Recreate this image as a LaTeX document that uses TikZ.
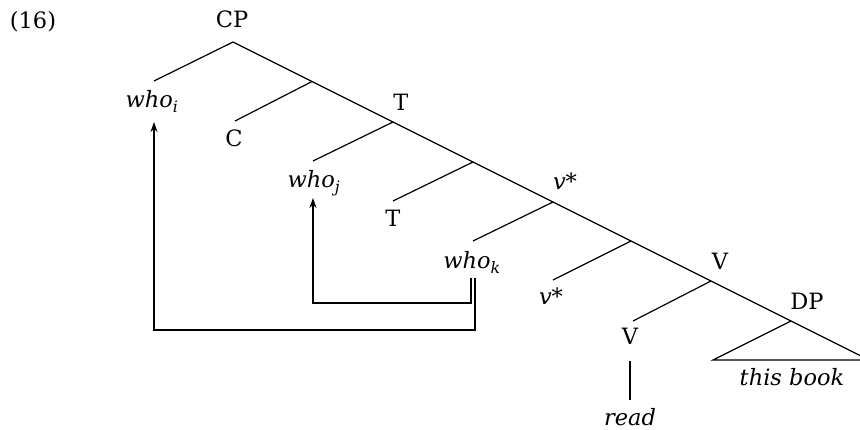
\documentclass[tikz,border=0pt]{standalone}
\usepackage{fontspec}
\setmainfont{DejaVu Serif}
\usetikzlibrary{arrows.meta}
\begin{document}
\begin{tikzpicture}[x=1pt,y=-1pt,
  lbl/.style={inner sep=0pt,anchor=base,font=\fontsize{22.5}{26}\selectfont},
  edge/.style={line width=1.2pt},
  mv/.style={line width=1.2pt,-{Stealth[length=10pt,width=7pt]}}]
\useasboundingbox (0,0) rectangle (860,430);
% labels
\node[lbl] (ex) at (33,29) {(16)};
\node[lbl] (cp) at (232,28) {CP};
\node[lbl] (whoi) at (152,108) {\textit{who}\textsubscript{\textit{i}}};
\node[lbl] (c) at (234,147) {C};
\node[lbl] (tbar) at (401,111) {T};
\node[lbl] (whoj) at (314,188) {\textit{who}\textsubscript{\textit{j}}};
\node[lbl] (t) at (393,227) {T};
\node[lbl] (vbar) at (565,190) {\textit{v*}};
\node[lbl] (whok) at (472,269) {\textit{who}\textsubscript{\textit{k}}};
\node[lbl] (v) at (551,305) {\textit{v*}};
\node[lbl] (Vbar) at (720,270) {V};
\node[lbl] (V) at (630,345) {V};
\node[lbl] (dp) at (807,310) {DP};
\node[lbl] (book) at (792,385) {\textit{this book}};
\node[lbl] (read) at (630,425) {\textit{read}};
% branch points
\coordinate (b0) at (233,42);
\coordinate (b1) at (312,81.5);
\coordinate (b2) at (393,122);
\coordinate (b3) at (473,162);
\coordinate (b4) at (553,202);
\coordinate (b5) at (631,241);
\coordinate (b6) at (711,281);
\coordinate (b7) at (791,321);
\coordinate (tr) at (869,360);
\coordinate (tl) at (713,360);
% leaf tops
\coordinate (l0) at (154,81);
\coordinate (l1) at (235,121);
\coordinate (l2) at (313,161);
\coordinate (l3) at (393,201);
\coordinate (l4) at (473,241);
\coordinate (l5) at (553,280);
\coordinate (l6) at (633,321);
\coordinate (r0) at (630,361);
\coordinate (r1) at (630,400);
% tree
\draw[edge] (b0) -- (tr);
\draw[edge] (b0) -- (l0);
\draw[edge] (b1) -- (l1);
\draw[edge] (b2) -- (l2);
\draw[edge] (b3) -- (l3);
\draw[edge] (b4) -- (l4);
\draw[edge] (b5) -- (l5);
\draw[edge] (b6) -- (l6);
\draw[edge] (b7) -- (tl) -- (tr);
\draw[edge] (r0) -- (r1);
% movement arrows
\coordinate (ko) at (475,278);
\coordinate (ki) at (471,278);
\coordinate (ai) at (154,122);
\coordinate (aj) at (313,198);
\draw[mv] (ko) |- (154,330) -- (ai);
\draw[mv] (ki) |- (313,303) -- (aj);
\end{tikzpicture}
\end{document}
